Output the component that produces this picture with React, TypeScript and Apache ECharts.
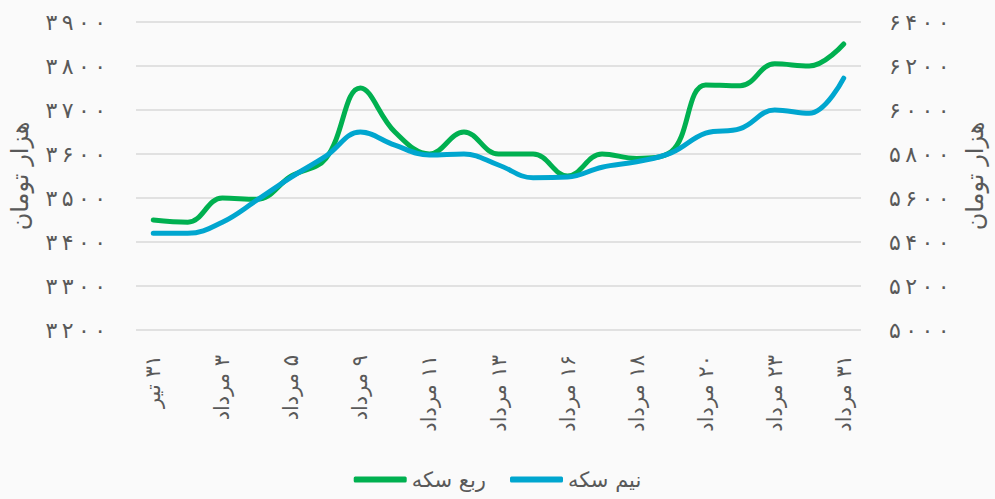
import React, { useEffect, useRef } from "react";
import * as echarts from "echarts";

const categories = [
  "۳۱ تیر", "۱ مرداد", "۳ مرداد", "۴ مرداد", "۵ مرداد", "۷ مرداد", "۹ مرداد",
  "۱۰ مرداد", "۱۱ مرداد", "۱۲ مرداد", "۱۳ مرداد", "۱۵ مرداد", "۱۶ مرداد",
  "۱۷ مرداد", "۱۸ مرداد", "۱۹ مرداد", "۲۰ مرداد", "۲۲ مرداد", "۲۳ مرداد",
  "۲۷ مرداد", "۳۱ مرداد",
];

const robSeke = [
  3450, 3445, 3500, 3497, 3550, 3590, 3750, 3650, 3600, 3650, 3600,
  3600, 3550, 3600, 3590, 3605, 3757, 3755, 3805, 3800, 3850,
];

const nimSeke = [
  5440, 5440, 5490, 5590, 5695, 5790, 5900, 5840, 5795, 5800, 5750,
  5692, 5695, 5740, 5765, 5805, 5895, 5915, 6000, 5985, 6145,
];

const seriesNames = ["ربع سکه", "نیم سکه"];
const axisTitle = "هزار تومان";

const toFa = (v: number | string) =>
  String(v)
    .replace(/\d/g, (d) => "۰۱۲۳۴۵۶۷۸۹"[Number(d)])
    .split("")
    .join("\u2009");

const FONT = "'DejaVu Sans', 'Noto Sans', sans-serif";
const TEXT = "#595959";

export default function App() {
  const ref = useRef<HTMLDivElement>(null);
  useEffect(() => {
    document.body.style.margin = "0";
    if (!ref.current) return;
    const chart = echarts.init(ref.current, undefined, { renderer: "svg" });
    chart.setOption({
      animation: false,
      backgroundColor: "#fafafa",
      textStyle: { fontFamily: FONT, color: TEXT },
      grid: { left: 130, right: 133, top: 22, bottom: 169 },
      legend: {
        bottom: 4,
        left: "center",
        itemWidth: 53,
        itemHeight: 6,
        itemGap: 24,
        icon: "roundRect",
        textStyle: { fontSize: 21, color: TEXT, fontFamily: FONT },
        data: seriesNames,
      },
      xAxis: {
        type: "category",
        data: categories,
        boundaryGap: true,
        axisLine: { show: false },
        axisTick: { show: false },
        axisLabel: {
          interval: 1,
          rotate: 90,
          margin: 25,
          fontSize: 21,
          color: TEXT,
          fontFamily: FONT,
          formatter: (v: string) => "\u200F" + v,
        },
      },
      yAxis: [
        {
          type: "value",
          min: 3200,
          max: 3900,
          interval: 100,
          position: "left",
          name: axisTitle,
          nameLocation: "middle",
          nameRotate: 90,
          nameGap: 104,
          nameTextStyle: { fontSize: 24, color: TEXT, fontFamily: FONT },
          axisLabel: {
            margin: 30,
            fontSize: 22,
            color: TEXT,
            fontFamily: FONT,
            formatter: (v: number) => toFa(v),
          },
          axisLine: { show: false },
          axisTick: { show: false },
          splitLine: { lineStyle: { color: "#d9d9d9", width: 1.5 } },
        },
        {
          type: "value",
          min: 5000,
          max: 6400,
          interval: 200,
          position: "right",
          name: axisTitle,
          nameLocation: "middle",
          nameRotate: 90,
          nameGap: 102,
          nameTextStyle: { fontSize: 24, color: TEXT, fontFamily: FONT },
          axisLabel: {
            margin: 28,
            fontSize: 22,
            color: TEXT,
            fontFamily: FONT,
            formatter: (v: number) => toFa(v),
          },
          axisLine: { show: false },
          axisTick: { show: false },
          splitLine: { show: false },
        },
      ],
      series: [
        {
          name: seriesNames[0],
          type: "line",
          yAxisIndex: 0,
          data: robSeke,
          smooth: 0.4,
          showSymbol: false,
          symbol: "none",
          lineStyle: { color: "#00b050", width: 5, cap: "round", join: "round" },
          itemStyle: { color: "#00b050" },
          z: 3,
        },
        {
          name: seriesNames[1],
          type: "line",
          yAxisIndex: 1,
          data: nimSeke,
          smooth: 0.4,
          showSymbol: false,
          symbol: "none",
          lineStyle: { color: "#00a6cf", width: 5, cap: "round", join: "round" },
          itemStyle: { color: "#00a6cf" },
          z: 4,
        },
      ],
    });
    return () => chart.dispose();
  }, []);
  return <div ref={ref} style={{ width: 995, height: 499 }} />;
}
